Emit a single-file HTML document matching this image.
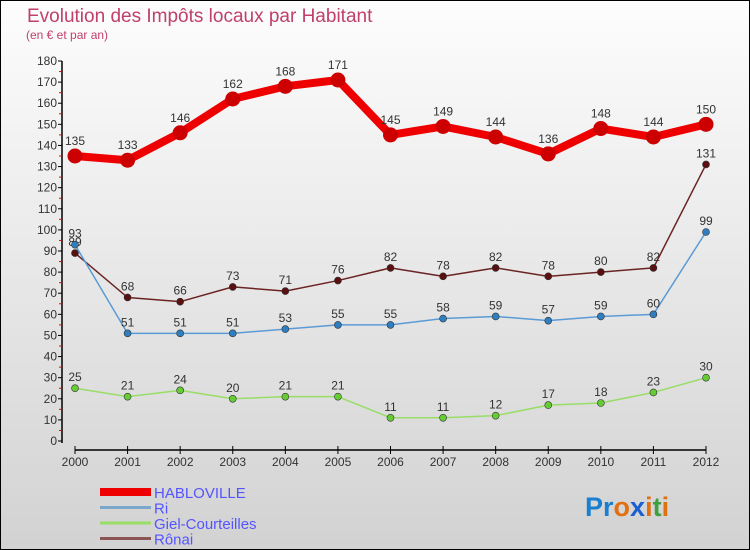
<!DOCTYPE html>
<html><head><meta charset="utf-8"><style>
body{margin:0;}
#wrap{width:750px;height:550px;position:relative;overflow:hidden;}
svg text{font-family:"Liberation Sans",sans-serif;}
</style></head><body>
<div id="wrap">
<svg id="chart" width="750" height="550" xmlns="http://www.w3.org/2000/svg">
<defs><linearGradient id="bg" x1="0" y1="0" x2="0" y2="1"><stop offset="0" stop-color="#fdfdfd"/><stop offset="1" stop-color="#d2d2d2"/></linearGradient></defs>
<rect x="0.5" y="0.5" width="749" height="549" fill="url(#bg)" stroke="#000"/>
<text x="27" y="22" font-size="19" fill="#c0406a">Evolution des Impôts locaux par Habitant</text>
<text x="26" y="39" font-size="12" fill="#c0406a">(en € et par an)</text>
<g id="axes"></g>
<g id="series"></g>
<g id="legend"></g>
<text x="585" y="516" font-size="27" font-weight="bold"><tspan fill="#1a7fd0">Pr</tspan><tspan fill="#e07010">o</tspan><tspan fill="#1a60d0">x</tspan><tspan fill="#e07010">i</tspan><tspan fill="#40a040">t</tspan><tspan fill="#e07010">i</tspan></text>
</svg>
</div>
<script>
const years=[2000,2001,2002,2003,2004,2005,2006,2007,2008,2009,2010,2011,2012];
const yTicks=[0,10,20,30,40,50,60,70,80,90,100,110,120,130,140,150,160,170,180];
const seriesNames=["HABLOVILLE","Ri","Giel-Courteilles","Rônai"];
const hablo=[135,133,146,162,168,171,145,149,144,136,148,144,150];
const ri=[93,51,51,51,53,55,55,58,59,57,59,60,99];
const giel=[25,21,24,20,21,21,11,11,12,17,18,23,30];
const ronai=[89,68,66,73,71,76,82,78,82,78,80,82,131];
const NS="http://www.w3.org/2000/svg";
const x0=75,x1=706,yb=441,yt=61,ymax=180;
function X(i){return x0+(x1-x0)*i/(years.length-1);}
function Y(v){return yb-(yb-yt)*v/ymax;}
function mk(tag,attrs,parent){const e=document.createElementNS(NS,tag);for(const k in attrs)e.setAttribute(k,attrs[k]);parent.appendChild(e);return e;}
const axes=document.getElementById('axes');
let l=mk('line',{x1:62,y1:Y(0)+2,x2:62,y2:Y(180),stroke:'#000','stroke-width':1.5},axes);


yTicks.forEach(v=>{
 const t=mk('line',{x1:58,y1:Y(v),x2:62,y2:Y(v),stroke:'#000'},axes);
 
 
 if(v<180){const m=mk('line',{x1:59,y1:Y(v+5),x2:62,y2:Y(v+5),stroke:'#e00'},axes);
 
 }
 const tx=mk('text',{x:57,y:Y(v)+4,'font-size':12,'text-anchor':'end',fill:'#333'},axes);
 tx.textContent=v;
 
 
});
l=mk('line',{x1:X(0),y1:450,x2:X(12),y2:450,stroke:'#000','stroke-width':1.5},axes);


years.forEach((yr,i)=>{
 const t=mk('line',{x1:X(i),y1:446,x2:X(i),y2:454,stroke:'#000'},axes);
 
 
 const tx=mk('text',{x:X(i),y:466,'font-size':12,'text-anchor':'middle',fill:'#333'},axes);
 tx.textContent=yr;
 
 
});
const sg=document.getElementById('series');
const defs=[[hablo,'#ee0000',8,7,'hablo','#cc0000'],[ronai,'#6b2424',1.5,3.5,'ronai','#5a1010'],[ri,'#5b9bd5',1.5,3.5,'ri','#2f7fc0'],[giel,'#99dd66',1.5,3.5,'giel','#66cc33']];
defs.forEach(([d,c,w,r,n,mc])=>{
 const p=mk('polyline',{points:d.map((v,i)=>X(i)+','+Y(v)).join(' '),fill:'none',stroke:c,'stroke-width':w,'stroke-linejoin':'round'},sg);
 
 
 d.forEach((v,i)=>{
  const ci=mk('circle',{cx:X(i),cy:Y(v),r:r,fill:mc,stroke:w>2?'#cc0000':'#333','stroke-width':w>2?1:0.6},sg);
  
  
  const tx=mk('text',{x:X(i),y:Y(v)-(w>2?11:7),'font-size':12,'text-anchor':'middle',fill:'#333'},sg);
  tx.textContent=v;
  
  
 });
});
const lg=document.getElementById('legend');
const lcol=['#ee0000','#7aa8cc','#99dd66','#8b5555'];
const lw=[8,3,3,3];
seriesNames.forEach((s,i)=>{
 const yy=492+i*15.5;
 const ln=mk('line',{x1:100,y1:yy,x2:151,y2:yy,stroke:lcol[i],'stroke-width':lw[i]},lg);
 
 
 const tx=mk('text',{x:154,y:yy+6,'font-size':15,fill:'#5555ff'},lg);
 tx.textContent=s;
 
 
});
</script>
</body></html>
